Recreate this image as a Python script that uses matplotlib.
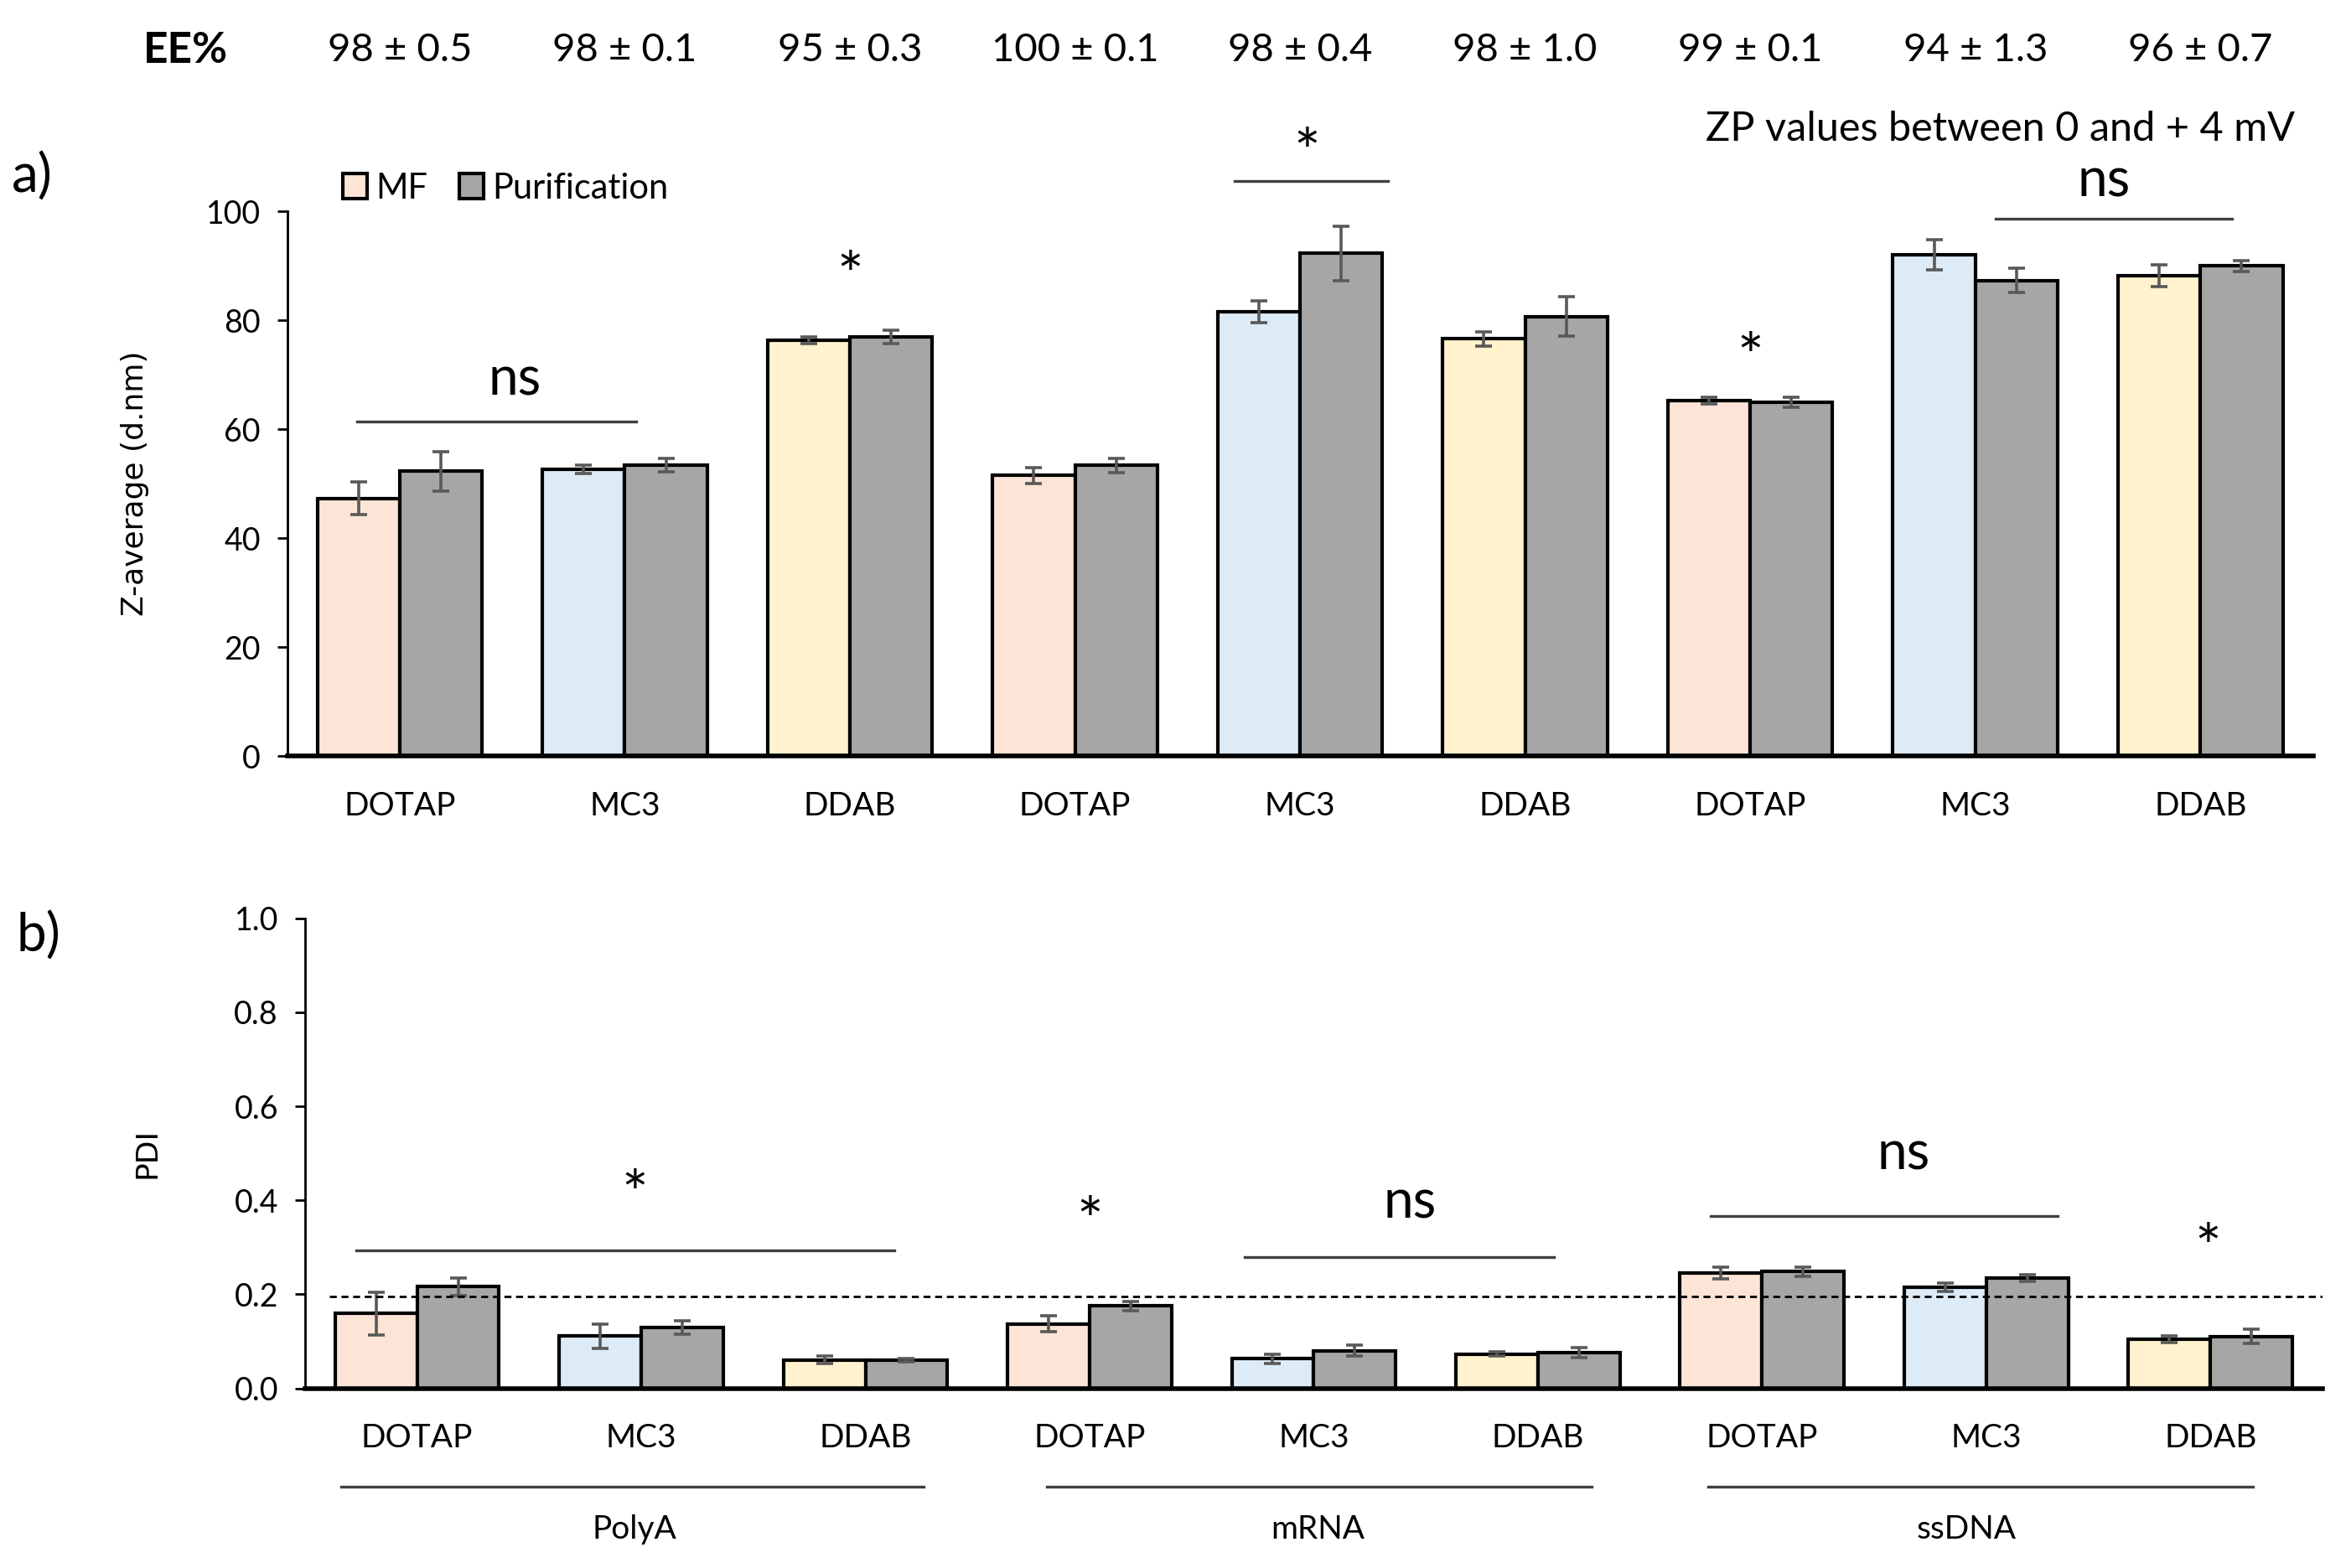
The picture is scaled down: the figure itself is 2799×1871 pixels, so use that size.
import numpy as np
import matplotlib.pyplot as plt
from matplotlib.patches import Patch

plt.rcParams['font.family'] = ['Lato', 'DejaVu Sans']

# categories
lipids = ["DOTAP", "MC3", "DDAB"] * 3
cargos = ["PolyA", "mRNA", "ssDNA"]
ee_labels = ["98 ± 0.5", "98 ± 0.1", "95 ± 0.3", "100 ± 0.1", "98 ± 0.4",
             "98 ± 1.0", "99 ± 0.1", "94 ± 1.3", "96 ± 0.7"]

# Z-average (d.nm)
z_mf = [47.3, 52.6, 76.3, 51.5, 81.5, 76.6, 65.3, 92.0, 88.2]
z_mf_err = [3.0, 0.8, 0.6, 1.5, 2.0, 1.3, 0.6, 2.8, 2.0]
z_pur = [52.3, 53.4, 76.9, 53.4, 92.3, 80.7, 65.0, 87.3, 90.0]
z_pur_err = [3.6, 1.2, 1.2, 1.3, 5.0, 3.6, 0.9, 2.2, 1.0]

# PDI
pdi_mf = [0.159, 0.111, 0.060, 0.137, 0.063, 0.073, 0.245, 0.215, 0.105]
pdi_mf_err = [0.046, 0.026, 0.008, 0.017, 0.010, 0.004, 0.012, 0.009, 0.007]
pdi_pur = [0.216, 0.130, 0.060, 0.175, 0.080, 0.076, 0.248, 0.235, 0.110]
pdi_pur_err = [0.018, 0.014, 0.003, 0.010, 0.012, 0.011, 0.010, 0.007, 0.015]
pdi_threshold = 0.195

mf_colors = {"DOTAP": "#FCE4D6", "MC3": "#DDEBF7", "DDAB": "#FFF2CC"}
pur_color = "#A6A6A6"
err_color = "#595959"

fig = plt.figure(figsize=(13.995, 9.355), dpi=200)
ax1 = fig.add_axes([0.1224, 0.5177, 0.8635, 0.3476])
ax2 = fig.add_axes([0.130, 0.1146, 0.860, 0.2998])

x = np.arange(len(lipids))
w = 0.366


def draw_bars(ax, mf, mf_err, pur, pur_err):
    ax.bar(x - w / 2, mf, w, color=[mf_colors[l] for l in lipids],
           edgecolor="black", linewidth=1.5, zorder=2)
    ax.bar(x + w / 2, pur, w, color=pur_color, edgecolor="black",
           linewidth=1.5, zorder=2)
    ax.errorbar(x - w / 2, mf, yerr=mf_err, fmt="none", ecolor=err_color,
                elinewidth=1.3, capsize=3.5, capthick=1.3, zorder=3)
    ax.errorbar(x + w / 2, pur, yerr=pur_err, fmt="none", ecolor=err_color,
                elinewidth=1.3, capsize=3.5, capthick=1.3, zorder=3)
    ax.set_xlim(-0.5, 8.5)
    ax.set_xticks(x)
    ax.set_xticklabels(lipids, fontsize=14)
    ax.tick_params(axis="x", length=0, pad=15)
    ax.tick_params(axis="y", length=4.5, width=1, pad=7, labelsize=13.5)
    for s in ["top", "right"]:
        ax.spines[s].set_visible(False)
    ax.spines["bottom"].set_linewidth(2)
    ax.spines["left"].set_linewidth(1)


draw_bars(ax1, z_mf, z_mf_err, z_pur, z_pur_err)
ax1.set_ylim(0, 100)
ax1.set_yticks(np.arange(0, 101, 20))
ax1.set_ylabel("Z-average (d.nm)", fontsize=13, family="DejaVu Sans")
ax1.yaxis.set_label_coords(-0.068, 0.5)

draw_bars(ax2, pdi_mf, pdi_mf_err, pdi_pur, pdi_pur_err)
ax2.set_ylim(0, 1.0)
ax2.set_yticks(np.arange(0, 1.01, 0.2))
ax2.set_yticklabels([f"{v:.1f}" for v in np.arange(0, 1.01, 0.2)])
ax2.set_ylabel("PDI", fontsize=13, family="DejaVu Sans")
ax2.yaxis.set_label_coords(-0.071, 0.5)
ax2.hlines(pdi_threshold, -0.39, 8.5, colors="black", linestyles=(0, (3, 2)),
           linewidth=1, zorder=4)

# EE% row
ax1.text(-0.95, 129.5, "EE%", fontsize=18.5, fontweight="bold",
         ha="center", va="center", clip_on=False)
for i, lab in enumerate(ee_labels):
    ax1.text(i, 129.5, lab, fontsize=17, ha="center", va="center", clip_on=False)
ax1.text(8.42, 115, "ZP values between 0 and + 4 mV", fontsize=17.5,
         ha="right", va="center", clip_on=False)

# significance marks, panel a
star = dict(fontsize=27, ha="center", va="center")
ax1.plot([-0.19, 1.05], [61.4, 61.4], color="#404040", lw=1.2, zorder=4)
ax1.text(0.51, 69, "ns", fontsize=23, ha="center", va="center")
ax1.text(2.0, 87.5, "*", **star)
ax1.plot([3.71, 4.39], [105.5, 105.5], color="#404040", lw=1.2, clip_on=False)
ax1.text(4.03, 110, "*", clip_on=False, **star)
ax1.text(6.0, 72.5, "*", **star)
ax1.plot([7.09, 8.14], [98.6, 98.6], color="#404040", lw=1.2, clip_on=False)
ax1.text(7.57, 105.5, "ns", fontsize=23, ha="center", va="center", clip_on=False)

# significance marks, panel b
ax2.plot([-0.27, 2.13], [0.293, 0.293], color="#404040", lw=1.2)
ax2.text(0.97, 0.405, "*", **star)
ax2.text(3.0, 0.348, "*", **star)
ax2.plot([3.69, 5.07], [0.28, 0.28], color="#404040", lw=1.2)
ax2.text(4.43, 0.395, "ns", fontsize=23, ha="center", va="center")
ax2.plot([5.77, 7.32], [0.366, 0.366], color="#404040", lw=1.2)
ax2.text(6.63, 0.497, "ns", fontsize=23, ha="center", va="center")
ax2.text(7.99, 0.291, "*", **star)

# cargo group labels under panel b
group_spans = [(-0.34, 2.26), (2.81, 5.24), (5.76, 8.19)]
group_text_x = [0.97, 4.02, 6.91]
for (x0, x1), gx, name in zip(group_spans, group_text_x, cargos):
    ax2.plot([x0, x1], [-0.21, -0.21], color="#404040", lw=1.2, clip_on=False)
    ax2.text(gx, -0.30, name, fontsize=14, ha="center", va="center", clip_on=False)

# legend
handles = [Patch(facecolor=mf_colors["DOTAP"], edgecolor="black", lw=1.5, label="MF"),
           Patch(facecolor=pur_color, edgecolor="black", lw=1.5, label="Purification")]
fig.legend(handles=handles, loc="center left", bbox_to_anchor=(0.140, 0.88),
           ncol=2, frameon=False, fontsize=15, handlelength=0.7, handleheight=0.7,
           handletextpad=0.25, columnspacing=0.9, borderaxespad=0)

fig.text(0.005, 0.887, "a)", fontsize=23, va="center")
fig.text(0.007, 0.403, "b)", fontsize=23, va="center")

fig.savefig("out.png", dpi=200)
